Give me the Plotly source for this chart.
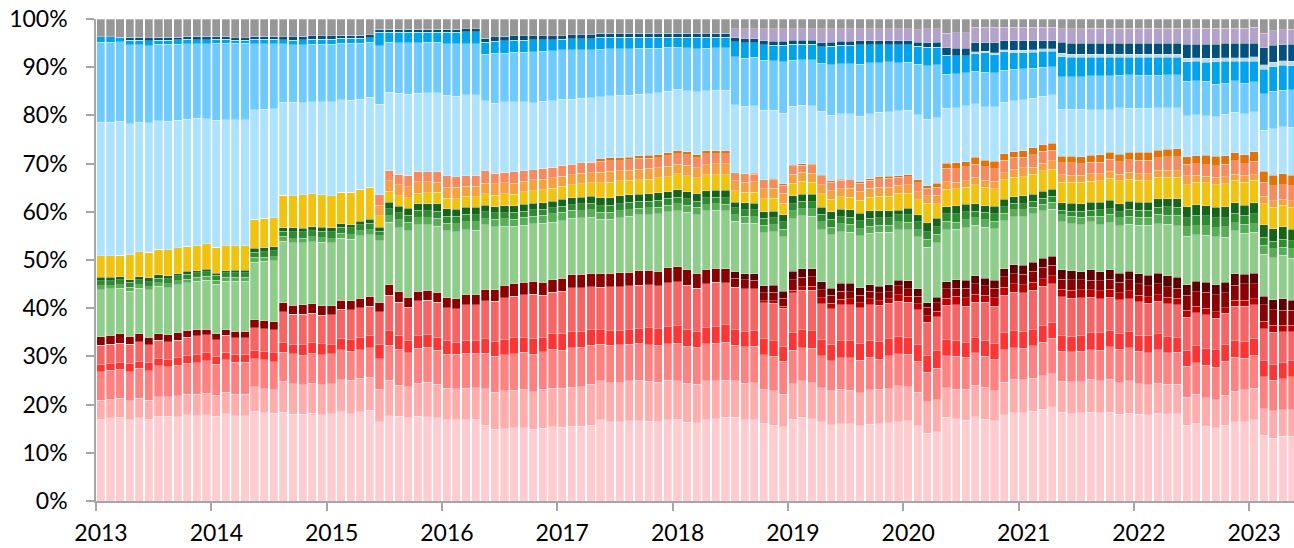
import plotly.graph_objects as go

# ---------------- categories ----------------
years = list(range(2013, 2024))
month_names = ["Jan", "Feb", "Mar", "Apr", "May", "Jun",
               "Jul", "Aug", "Sep", "Oct", "Nov", "Dec"]
n_months = 125  # Jan 2013 .. May 2023
months = [f"{m} {y}" for y in years for m in month_names][:n_months]
year_labels = [str(y) for y in years]

# ---------------- series values (% share, bottom -> top) ----------------
s01 = [16.9, 17.3, 17.3, 16.8, 17.3, 16.9, 17.6, 17.5, 17.5, 17.9, 17.7, 17.9,
       17.5, 18.1, 17.7, 17.7, 18.6, 18.3, 18.2, 18.4, 18.0, 17.9, 18.2, 17.9,
       18.1, 18.5, 18.1, 18.5, 18.8, 16.4, 17.7, 17.5, 17.2, 17.5, 17.5, 17.3,
       16.8, 16.8, 16.8, 16.9, 15.7, 14.8, 15.0, 15.2, 15.2, 14.8, 15.1, 15.4,
       15.3, 15.5, 15.5, 15.7, 16.9, 16.4, 16.4, 16.6, 16.6, 16.5, 16.4, 16.8,
       16.9, 16.3, 16.2, 16.8, 17.0, 17.3, 17.3, 16.9, 16.9, 16.1, 15.7, 15.4,
       16.9, 17.3, 17.0, 16.4, 15.8, 16.0, 16.0, 15.5, 15.9, 16.0, 16.2, 16.4,
       16.6, 15.5, 14.0, 14.3, 17.3, 17.0, 16.8, 17.5, 16.9, 16.6, 17.9, 18.3,
       18.3, 18.6, 19.0, 19.5, 18.4, 18.1, 18.3, 18.4, 18.3, 18.4, 17.9, 18.2,
       17.9, 17.9, 18.2, 18.1, 18.1, 15.7, 16.1, 15.5, 15.2, 15.7, 16.4, 16.4,
       16.8, 13.6, 13.0, 13.4, 13.4]
s02 = [4.0, 3.8, 4.0, 4.0, 4.0, 4.0, 4.0, 4.1, 4.3, 4.2, 4.4, 4.4,
       4.4, 4.4, 4.4, 4.4, 5.1, 5.0, 4.9, 6.4, 6.3, 6.1, 6.2, 6.2,
       6.3, 6.7, 6.9, 6.9, 6.8, 6.7, 7.3, 6.5, 6.5, 6.9, 7.1, 6.9,
       6.5, 6.5, 6.5, 6.5, 7.6, 7.6, 7.8, 7.8, 8.0, 7.8, 8.0, 8.0,
       8.0, 8.0, 8.2, 8.5, 8.1, 8.1, 8.1, 8.3, 8.4, 8.3, 8.2, 8.2,
       8.0, 8.1, 8.0, 8.1, 7.9, 7.7, 7.6, 7.6, 7.6, 7.1, 7.1, 6.7,
       7.4, 7.6, 7.5, 7.1, 7.1, 7.1, 6.9, 6.9, 7.1, 7.1, 7.0, 7.5,
       7.1, 6.9, 6.5, 6.7, 6.2, 6.2, 6.4, 6.5, 6.6, 6.2, 6.7, 6.9,
       6.8, 6.8, 6.9, 6.9, 6.4, 6.6, 6.4, 6.8, 6.6, 6.8, 6.6, 6.7,
       6.4, 6.2, 6.2, 6.1, 6.1, 5.8, 6.0, 5.9, 5.8, 6.2, 6.3, 6.7,
       6.5, 5.5, 5.7, 5.5, 5.5]
s03 = [5.9, 6.0, 6.0, 6.0, 6.2, 6.1, 6.4, 6.2, 6.4, 6.5, 6.5, 6.7,
       6.4, 6.7, 6.6, 6.6, 5.8, 6.0, 5.8, 6.0, 6.2, 6.2, 6.3, 6.2,
       6.2, 6.2, 6.0, 6.0, 6.2, 6.4, 7.2, 7.4, 7.0, 7.2, 7.3, 7.1,
       7.1, 7.1, 7.3, 7.2, 7.3, 7.5, 7.5, 7.6, 7.6, 7.8, 7.8, 8.1,
       7.9, 8.2, 8.2, 8.1, 7.5, 7.8, 7.8, 7.6, 7.7, 7.6, 7.6, 7.6,
       7.8, 7.6, 7.6, 7.6, 7.8, 7.9, 7.3, 7.5, 7.6, 7.1, 7.2, 6.8,
       6.9, 6.8, 7.1, 6.6, 6.2, 6.5, 6.7, 6.7, 6.7, 6.3, 6.9, 6.6,
       6.7, 6.4, 6.2, 6.5, 6.6, 6.8, 6.6, 6.7, 6.4, 6.5, 6.7, 6.6,
       6.5, 6.8, 6.9, 7.3, 6.2, 6.2, 6.4, 6.2, 6.4, 6.8, 6.9, 6.9,
       6.7, 6.6, 6.9, 6.6, 6.6, 6.4, 6.6, 6.7, 6.7, 7.1, 7.1, 6.5,
       6.8, 6.7, 6.4, 6.4, 6.8]
s04 = [1.5, 1.4, 1.4, 1.7, 1.5, 1.7, 1.6, 1.5, 1.6, 1.6, 1.7, 1.7,
       1.7, 1.6, 1.7, 1.7, 1.7, 1.8, 1.9, 2.1, 2.0, 2.1, 2.1, 2.3,
       1.9, 2.4, 2.4, 2.4, 2.4, 3.0, 3.1, 2.9, 2.6, 2.6, 2.7, 2.7,
       2.8, 2.5, 2.6, 2.6, 3.0, 3.1, 3.2, 3.3, 3.1, 3.3, 3.0, 3.3,
       3.5, 3.4, 3.3, 3.3, 3.1, 3.0, 3.0, 3.1, 3.0, 3.5, 3.5, 3.5,
       3.6, 3.6, 3.3, 3.3, 3.4, 3.6, 3.3, 3.3, 3.3, 3.3, 3.2, 3.0,
       3.7, 3.8, 3.7, 3.3, 3.4, 3.5, 3.5, 3.5, 3.5, 3.6, 3.5, 3.5,
       3.5, 3.5, 3.5, 3.6, 3.3, 3.3, 3.0, 3.2, 3.4, 3.3, 3.5, 3.5,
       3.5, 3.3, 3.6, 3.3, 3.3, 3.2, 3.3, 3.5, 3.6, 3.4, 3.3, 3.3,
       3.3, 3.5, 3.3, 3.3, 3.1, 3.3, 3.5, 3.5, 3.7, 3.5, 3.5, 3.5,
       3.6, 3.3, 3.2, 3.3, 3.3]
s05 = [4.0, 4.0, 4.0, 4.0, 4.0, 3.7, 3.7, 3.7, 3.6, 3.7, 3.9, 3.7,
       3.4, 3.5, 3.4, 3.4, 4.7, 4.6, 4.7, 6.3, 6.2, 6.3, 6.2, 5.9,
       6.2, 6.0, 6.2, 6.3, 6.2, 6.7, 7.3, 6.9, 6.8, 7.2, 7.0, 7.3,
       6.8, 6.9, 7.4, 7.4, 7.9, 8.2, 8.6, 8.7, 8.8, 9.1, 8.7, 8.5,
       8.7, 9.0, 9.0, 8.8, 8.7, 9.1, 9.0, 9.0, 9.0, 9.0, 8.9, 9.1,
       9.1, 9.1, 8.9, 9.1, 9.2, 8.7, 8.8, 8.8, 8.6, 7.5, 7.8, 8.0,
       8.2, 8.1, 8.3, 7.5, 7.3, 7.5, 7.5, 7.3, 7.4, 7.5, 7.3, 7.4,
       7.3, 7.2, 6.8, 7.0, 7.1, 7.4, 7.6, 7.3, 7.8, 7.7, 7.8, 8.0,
       8.0, 8.2, 8.0, 8.0, 8.0, 7.9, 7.8, 7.3, 7.1, 6.8, 6.9, 6.9,
       6.9, 6.7, 6.7, 6.8, 6.8, 6.9, 6.8, 6.9, 6.5, 6.4, 7.1, 7.3,
       6.9, 6.6, 6.7, 6.4, 6.0]
s06 = [0.0] * 60 + [
       0.0, 0.0, 0.0, 0.0, 0.0, 0.0, 0.0, 0.0, 0.0, 0.4, 0.5, 0.4,
       0.5, 0.7, 0.9, 1.2, 1.2, 1.1, 1.2, 1.1, 1.2, 1.0, 1.0, 1.4,
       1.2, 1.2, 1.4, 1.2, 1.5, 1.7, 1.8, 1.7, 1.5, 1.8, 1.7, 1.7,
       1.6, 1.6, 1.6, 1.6, 1.6, 1.6, 1.6, 1.6, 1.6, 1.7, 1.5, 1.6,
       1.4, 1.4, 1.4, 1.4, 1.3, 1.4, 1.4, 1.4, 1.4, 1.2, 1.2, 1.2,
       1.2, 1.6, 1.5, 1.4, 1.4]
s07 = [1.7, 1.9, 1.9, 1.6, 1.7, 1.5, 1.4, 1.4, 1.5, 1.5, 1.3, 1.2,
       1.2, 1.2, 1.3, 1.3, 1.7, 1.7, 1.7, 1.9, 1.9, 2.0, 1.9, 1.9,
       1.9, 1.9, 1.9, 1.9, 2.0, 2.0, 2.2, 2.1, 2.1, 2.0, 2.1, 2.1,
       2.1, 2.1, 2.1, 2.1, 2.4, 2.4, 2.6, 2.6, 2.6, 2.7, 2.6, 2.6,
       2.7, 2.7, 2.8, 2.7, 2.8, 2.8, 2.9, 2.8, 3.0, 3.0, 3.0, 3.1,
       3.2, 3.2, 3.1, 3.0, 2.9, 2.9, 1.8, 1.8, 1.8, 1.7, 1.8, 1.7,
       2.2, 2.0, 1.9, 1.7, 1.6, 1.7, 1.5, 1.5, 1.5, 1.6, 1.4, 1.8,
       1.6, 1.6, 1.7, 1.7, 1.9, 1.7, 1.9, 2.1, 1.9, 1.9, 2.1, 2.1,
       2.2, 2.3, 2.3, 2.2, 2.1, 2.2, 2.1, 2.0, 2.1, 2.1, 2.2, 2.3,
       2.3, 2.3, 2.2, 2.1, 2.1, 3.1, 3.0, 3.3, 3.5, 3.1, 3.1, 3.5,
       3.1, 3.4, 3.2, 3.1, 3.1]
s08 = [0.0] * 60 + [
       0.0, 0.0, 0.0, 0.0, 0.0, 0.0, 1.4, 1.3, 1.3, 1.4, 1.4, 1.4,
       1.7, 1.7, 1.7, 1.6, 1.5, 1.6, 1.7, 1.6, 1.4, 1.4, 1.5, 1.2,
       1.7, 1.5, 1.0, 1.2, 1.5, 1.8, 1.7, 1.7, 1.6, 1.7, 1.7, 1.9,
       1.9, 1.9, 1.9, 1.9, 1.9, 1.9, 1.7, 2.1, 1.9, 1.9, 1.8, 1.8,
       2.1, 2.1, 2.2, 2.3, 2.3, 2.2, 2.1, 2.1, 2.1, 2.1, 2.4, 1.9,
       2.2, 1.8, 2.1, 2.3, 2.1]
s09 = [9.8, 9.6, 9.4, 9.4, 9.4, 9.8, 9.8, 9.8, 10.0, 9.8, 10.0, 10.1,
       10.3, 10.0, 10.4, 10.4, 11.9, 12.3, 12.6, 12.7, 12.9, 12.8, 12.9, 13.2,
       13.0, 12.8, 12.7, 13.0, 12.8, 12.7, 12.9, 13.3, 13.8, 13.7, 13.6, 13.7,
       13.9, 13.9, 13.4, 13.4, 13.4, 13.0, 12.2, 11.9, 11.9, 11.8, 12.3, 11.9,
       11.9, 11.7, 11.7, 11.8, 11.4, 11.2, 11.4, 11.6, 11.6, 11.5, 11.9, 11.6,
       11.6, 11.9, 12.2, 12.1, 12.0, 12.0, 10.4, 10.5, 10.5, 11.0, 11.1, 11.3,
       10.9, 11.0, 10.9, 10.8, 11.1, 10.7, 10.6, 10.7, 10.6, 11.1, 10.8, 10.4,
       10.5, 10.7, 11.4, 11.3, 10.8, 10.4, 10.9, 10.5, 10.5, 10.7, 9.9, 9.9,
       10.0, 10.0, 9.8, 9.7, 10.0, 9.7, 9.7, 10.0, 9.7, 9.8, 9.8, 9.7,
       10.0, 10.4, 10.3, 10.7, 10.7, 10.1, 9.7, 9.7, 9.9, 9.4, 8.9, 8.5,
       8.5, 8.7, 8.7, 9.0, 8.7]
s10 = [0.8, 0.7, 0.8, 0.8, 0.8, 0.7, 0.7, 0.8, 0.8, 0.8, 0.8, 0.8,
       0.8, 0.8, 0.8, 0.8, 1.0, 0.9, 0.9, 1.0, 0.9, 1.0, 1.0, 0.9,
       0.9, 1.0, 1.0, 1.0, 1.0, 1.0, 1.4, 1.6, 1.7, 1.5, 1.5, 1.6,
       1.5, 1.7, 1.7, 1.7, 1.2, 1.6, 1.5, 1.5, 1.6, 1.6, 1.6, 1.7,
       1.7, 1.6, 1.5, 1.5, 1.4, 1.4, 1.4, 1.4, 1.4, 1.4, 1.3, 1.4,
       1.4, 1.4, 1.5, 1.3, 1.3, 1.3, 1.4, 1.4, 1.4, 1.6, 1.5, 1.6,
       1.6, 1.5, 1.5, 1.7, 1.5, 1.6, 1.6, 1.5, 1.5, 1.5, 1.5, 1.7,
       1.6, 1.5, 1.7, 1.7, 1.7, 1.5, 1.6, 1.5, 1.6, 1.5, 1.6, 1.5,
       1.4, 1.4, 1.4, 1.5, 1.4, 1.6, 1.6, 1.1, 1.8, 1.7, 1.7, 1.7,
       1.7, 1.7, 1.9, 1.9, 2.1, 1.9, 1.9, 1.9, 1.9, 2.1, 1.7, 1.9,
       1.7, 1.9, 1.9, 1.7, 1.9]
s11 = [1.0, 1.0, 1.0, 1.0, 1.0, 1.0, 1.0, 1.0, 1.0, 1.0, 1.0, 1.0,
       1.0, 1.0, 1.0, 1.0, 1.1, 1.1, 1.2, 1.1, 1.4, 1.3, 1.3, 1.4,
       1.4, 1.3, 1.4, 1.3, 1.4, 1.0, 1.4, 1.5, 1.5, 1.5, 1.4, 1.5,
       1.5, 1.5, 1.5, 1.5, 1.5, 1.3, 1.3, 1.4, 1.3, 1.3, 1.2, 1.3,
       1.3, 1.2, 1.4, 1.4, 1.4, 1.5, 1.5, 1.5, 1.4, 1.4, 1.5, 1.4,
       1.4, 1.4, 1.3, 1.4, 1.4, 1.4, 1.4, 1.4, 1.4, 1.4, 1.4, 1.5,
       1.5, 1.5, 1.5, 1.5, 1.7, 1.5, 1.5, 1.6, 1.6, 1.5, 1.5, 1.4,
       1.5, 1.6, 1.6, 1.6, 1.6, 1.7, 1.7, 1.4, 1.5, 1.6, 1.3, 1.3,
       1.3, 1.2, 1.2, 1.2, 1.0, 1.0, 1.2, 1.3, 1.3, 1.2, 1.2, 1.4,
       1.4, 1.4, 1.5, 1.7, 1.7, 1.9, 2.1, 2.1, 2.1, 1.9, 1.9, 1.9,
       2.1, 1.6, 1.5, 1.6, 1.7]
s12 = [0.8, 0.7, 0.6, 0.6, 0.6, 0.8, 0.7, 0.6, 0.5, 0.6, 0.4, 0.5,
       0.5, 0.4, 0.5, 0.5, 0.8, 0.8, 0.8, 0.7, 0.8, 0.7, 0.8, 0.8,
       0.8, 0.7, 0.7, 0.7, 0.8, 0.8, 1.4, 1.3, 1.4, 1.4, 1.5, 1.5,
       1.5, 1.5, 1.5, 1.5, 1.3, 1.2, 1.4, 1.4, 1.4, 1.4, 1.4, 1.3,
       1.4, 1.4, 1.4, 1.4, 1.6, 1.6, 1.6, 1.6, 1.5, 1.5, 1.5, 1.4,
       1.5, 1.4, 1.5, 1.5, 1.4, 1.5, 1.2, 1.4, 1.4, 1.4, 1.4, 1.5,
       1.6, 1.5, 1.5, 1.5, 1.5, 1.5, 1.5, 1.6, 1.6, 1.5, 1.5, 1.0,
       1.4, 1.5, 1.8, 1.7, 1.4, 1.7, 1.6, 1.5, 1.4, 1.5, 1.6, 1.4,
       1.6, 1.5, 1.5, 1.5, 1.5, 1.6, 1.6, 1.6, 1.6, 1.7, 1.7, 1.7,
       1.7, 1.7, 1.7, 1.7, 1.7, 2.3, 2.2, 2.1, 2.1, 2.3, 2.2, 2.1,
       2.3, 2.6, 2.6, 2.6, 2.4]
s13 = [4.4, 4.5, 4.5, 5.1, 5.2, 5.3, 5.3, 5.4, 5.3, 5.2, 5.2, 5.3,
       5.3, 5.2, 5.1, 5.1, 6.0, 6.2, 6.1, 6.7, 6.7, 6.9, 6.8, 6.7,
       6.7, 6.6, 6.7, 6.6, 6.6, 2.4, 2.2, 2.2, 2.2, 2.2, 2.3, 2.4,
       2.2, 2.1, 2.2, 2.2, 2.4, 2.4, 2.5, 2.4, 2.6, 2.6, 2.7, 2.7,
       2.7, 2.7, 2.8, 2.8, 3.1, 3.2, 3.1, 3.0, 3.0, 3.1, 3.1, 3.1,
       3.3, 3.3, 3.3, 3.3, 3.3, 3.3, 2.3, 2.2, 2.3, 2.6, 2.6, 2.4,
       2.6, 2.6, 2.5, 2.8, 2.6, 2.6, 2.6, 2.6, 2.8, 3.0, 3.0, 3.5,
       3.1, 3.1, 4.0, 3.0, 3.6, 3.5, 3.5, 3.9, 3.8, 3.7, 4.0, 4.0,
       4.0, 4.1, 4.2, 4.1, 4.3, 4.4, 4.4, 4.4, 4.4, 4.6, 4.7, 4.6,
       4.5, 4.4, 4.5, 4.5, 4.5, 4.5, 4.7, 4.7, 4.7, 4.8, 4.7, 4.7,
       4.6, 4.4, 4.5, 4.5, 4.5]
s14 = [0.0] * 24 + [
       0.0, 0.0, 0.0, 0.0, 0.0, 2.1, 2.2, 2.3, 2.3, 2.3, 2.2, 2.1,
       2.3, 2.4, 2.1, 2.2, 2.2, 2.4, 2.3, 2.3, 2.2, 2.2, 2.2, 2.2,
       2.1, 2.1, 2.1, 2.1, 2.2, 2.2, 2.1, 2.1, 2.2, 2.2, 2.1, 2.2,
       2.0, 2.2, 2.1, 2.1, 2.2, 2.2, 2.1, 2.1, 2.1, 2.1, 2.1, 2.0,
       1.9, 1.9, 1.9, 1.8, 1.8, 1.7, 1.9, 1.9, 1.8, 1.9, 1.9, 1.6,
       1.7, 1.6, 1.6, 1.8, 1.6, 1.4, 1.3, 1.6, 1.4, 1.5, 1.5, 1.7,
       1.8, 1.5, 1.6, 1.7, 1.5, 1.5, 1.5, 1.5, 1.5, 1.4, 1.4, 1.4,
       1.4, 1.5, 1.4, 1.4, 1.4, 1.9, 1.4, 1.4, 1.6, 1.4, 1.2, 1.5,
       1.2, 1.5, 1.4, 1.2, 1.4]
s15 = [0.0] * 24 + [
       0.0, 0.0, 0.0, 0.0, 0.0, 2.2, 2.2, 2.2, 2.3, 2.2, 2.1, 2.2,
       2.3, 2.2, 2.2, 2.2, 2.5, 2.2, 2.2, 2.3, 2.2, 2.1, 2.2, 2.2,
       2.2, 2.2, 2.2, 2.2, 2.3, 2.2, 2.1, 2.1, 2.2, 2.1, 2.1, 2.2,
       2.2, 2.2, 2.1, 2.2, 2.1, 2.1, 1.5, 1.6, 1.6, 1.7, 1.6, 1.7,
       1.5, 1.5, 1.5, 1.7, 1.8, 1.7, 1.7, 1.7, 1.7, 1.7, 1.8, 1.7,
       1.7, 1.9, 1.6, 1.7, 2.8, 2.8, 2.9, 2.7, 2.8, 2.6, 2.6, 2.4,
       2.2, 2.6, 2.4, 2.2, 2.5, 2.5, 2.4, 2.4, 2.4, 2.5, 2.6, 2.6,
       2.8, 2.8, 2.6, 2.8, 2.8, 2.4, 2.4, 2.4, 2.4, 2.6, 2.8, 2.4,
       2.8, 2.9, 3.1, 3.0, 3.1]
s16 = [0.0] * 48 + [
       0.0, 0.0, 0.0, 0.0, 0.5, 0.6, 0.6, 0.5, 0.6, 0.6, 0.6, 0.6,
       0.6, 0.6, 0.6, 0.6, 0.6, 0.6, 0.2, 0.2, 0.2, 0.2, 0.3, 0.3,
       0.3, 0.3, 0.3, 0.3, 0.3, 0.3, 0.2, 0.3, 0.3, 0.4, 0.4, 0.3,
       0.4, 0.6, 0.5, 0.8, 1.0, 1.2, 1.1, 1.4, 1.4, 1.5, 1.3, 1.2,
       1.3, 1.4, 1.4, 1.5, 1.4, 1.4, 1.4, 1.5, 1.5, 1.5, 1.5, 1.6,
       1.6, 1.6, 1.6, 1.6, 1.7, 1.6, 1.7, 1.9, 1.9, 1.8, 1.7, 1.8,
       1.9, 2.3, 2.2, 2.3, 2.2]
s17 = [27.7, 27.7, 27.7, 27.2, 26.9, 26.8, 26.6, 26.6, 26.5, 26.3, 26.3, 25.8,
       26.3, 26.0, 26.0, 26.0, 22.7, 22.6, 22.6, 19.3, 19.3, 19.1, 19.1, 19.3,
       19.5, 19.1, 19.1, 18.7, 18.7, 18.8, 16.1, 16.7, 16.8, 16.1, 16.4, 16.4,
       16.7, 16.7, 16.7, 16.7, 14.6, 14.4, 14.6, 14.6, 14.3, 13.9, 13.9, 13.8,
       13.7, 13.4, 13.4, 13.4, 12.9, 12.9, 12.9, 12.9, 12.7, 12.8, 12.8, 12.7,
       12.7, 12.6, 13.0, 12.5, 12.5, 12.5, 14.0, 14.0, 14.0, 14.4, 14.3, 14.6,
       12.3, 12.1, 12.1, 13.3, 13.6, 13.5, 13.5, 13.5, 13.4, 13.4, 13.4, 13.5,
       13.4, 13.4, 13.7, 13.6, 11.4, 11.4, 11.6, 11.1, 11.1, 11.3, 10.7, 10.6,
       10.6, 10.3, 10.0, 10.0, 9.7, 9.7, 9.9, 9.4, 9.4, 8.8, 9.6, 9.1,
       9.1, 9.1, 8.7, 8.6, 8.5, 8.5, 8.5, 8.2, 8.2, 8.6, 8.4, 8.5,
       8.3, 8.5, 9.6, 9.7, 9.9]
s18 = [16.6, 16.6, 16.5, 16.4, 16.1, 16.0, 15.9, 16.0, 15.8, 15.7, 15.5, 15.6,
       16.0, 15.9, 15.9, 15.9, 13.7, 13.6, 13.5, 12.1, 12.0, 12.0, 12.0, 11.9,
       12.0, 11.8, 11.8, 11.6, 11.4, 12.1, 10.4, 10.5, 10.7, 10.5, 10.5, 10.5,
       10.7, 10.9, 10.6, 10.6, 9.6, 10.3, 10.0, 10.3, 10.2, 10.5, 10.3, 10.3,
       10.2, 10.2, 10.0, 9.9, 9.8, 9.7, 9.6, 9.6, 9.5, 9.4, 9.2, 9.1,
       8.7, 8.9, 8.9, 8.8, 8.8, 8.8, 10.0, 10.0, 10.1, 10.3, 10.2, 10.6,
       9.5, 9.4, 9.6, 9.9, 10.4, 10.3, 10.3, 10.8, 10.6, 10.2, 10.3, 9.9,
       9.9, 10.5, 11.1, 10.9, 7.1, 7.1, 6.9, 6.8, 7.1, 7.1, 6.6, 6.5,
       6.4, 6.2, 6.0, 5.8, 6.7, 6.7, 6.7, 7.0, 7.0, 7.0, 6.8, 6.9,
       6.9, 6.9, 6.8, 6.8, 6.8, 7.1, 7.0, 7.1, 6.8, 6.4, 6.5, 6.4,
       6.2, 7.6, 7.8, 7.6, 7.8]
s19 = [1.1, 1.1, 0.8, 0.9, 0.9, 1.0, 0.8, 0.8, 0.9, 0.9, 0.8, 0.8,
       0.8, 0.8, 0.6, 0.6, 0.9, 0.9, 0.9, 0.8, 0.9, 1.0, 1.0, 1.0,
       1.0, 1.0, 1.0, 1.0, 0.9, 2.8, 2.1, 2.2, 2.2, 2.2, 2.1, 2.1,
       2.4, 2.4, 2.5, 2.5, 2.5, 2.5, 2.6, 2.5, 2.5, 2.5, 2.4, 2.3,
       2.2, 2.3, 2.3, 2.3, 2.5, 2.4, 2.4, 2.4, 2.3, 2.3, 2.3, 2.1,
       2.1, 2.2, 2.4, 2.2, 2.2, 2.2, 3.1, 3.2, 3.0, 3.3, 3.3, 3.5,
       3.3, 3.2, 3.2, 3.5, 3.9, 3.9, 3.9, 4.0, 3.7, 3.8, 3.6, 3.8,
       3.7, 3.7, 3.8, 3.7, 3.9, 3.7, 3.5, 3.6, 4.0, 3.7, 3.8, 3.4,
       3.3, 3.3, 3.3, 3.2, 4.2, 4.1, 4.1, 3.9, 3.9, 3.9, 3.7, 3.7,
       3.7, 3.7, 3.7, 3.7, 3.7, 4.0, 4.0, 4.0, 4.6, 4.5, 4.0, 4.5,
       4.3, 5.1, 5.1, 5.1, 4.9]
s20 = [0.0] * 84 + [
       0.0, 0.0, 0.0, 0.0, 0.0, 0.0, 0.0, 0.4, 0.3, 0.4, 0.4, 0.5,
       0.5, 0.5, 0.5, 0.5, 0.7, 0.6, 0.6, 0.6, 0.6, 0.6, 0.6, 0.6,
       0.6, 0.6, 0.6, 0.6, 0.6, 0.8, 0.8, 0.8, 0.8, 0.8, 0.8, 0.8,
       0.9, 0.9, 0.9, 1.0, 1.0]
s21 = [0.0, 0.0, 0.1, 0.6, 0.6, 0.6, 0.6, 0.6, 0.5, 0.6, 0.7, 0.7,
       0.6, 0.6, 0.5, 0.5, 0.6, 0.6, 0.6, 0.6, 0.7, 0.7, 0.7, 0.7,
       0.7, 0.6, 0.6, 0.6, 0.6, 0.6, 0.6, 0.6, 0.6, 0.6, 0.6, 0.6,
       0.6, 0.6, 0.6, 0.6, 0.8, 0.9, 0.9, 0.9, 0.9, 0.8, 0.8, 0.8,
       0.7, 0.8, 0.8, 0.8, 0.8, 0.8, 0.8, 0.8, 0.8, 0.8, 0.8, 0.8,
       0.8, 0.8, 0.8, 0.8, 0.8, 0.8, 0.8, 0.8, 0.8, 0.8, 0.8, 0.8,
       0.8, 0.8, 0.8, 0.8, 0.8, 0.8, 0.8, 0.8, 0.8, 0.8, 0.8, 0.8,
       0.8, 0.8, 1.0, 1.0, 1.5, 1.5, 1.5, 1.9, 1.8, 2.1, 1.9, 2.0,
       2.0, 1.9, 1.7, 1.7, 2.3, 2.3, 2.3, 2.3, 2.3, 2.3, 2.3, 2.3,
       2.3, 2.3, 2.3, 2.3, 2.3, 2.9, 2.8, 2.9, 2.9, 3.0, 3.0, 3.0,
       2.8, 3.5, 3.6, 3.3, 3.5]
s22 = [0.0] * 60 + [
       0.0, 0.0, 0.0, 0.0, 0.0, 0.0, 1.9, 2.1, 2.1, 2.5, 2.6, 2.6,
       2.4, 2.4, 2.4, 2.9, 2.8, 2.6, 2.6, 2.5, 2.5, 2.5, 2.5, 2.5,
       2.5, 2.6, 2.9, 2.8, 3.1, 3.3, 3.3, 3.2, 3.2, 3.2, 2.8, 2.8,
       2.8, 2.8, 2.8, 2.8, 2.8, 3.0, 3.0, 3.1, 3.1, 3.1, 3.1, 3.1,
       3.1, 3.1, 3.1, 3.1, 3.1, 3.3, 3.3, 3.3, 3.3, 3.1, 3.1, 3.1,
       3.3, 3.0, 3.0, 3.1, 3.1]
s23 = [3.7, 3.7, 3.8, 3.8, 3.8, 3.9, 3.8, 3.8, 3.8, 3.6, 3.6, 3.6,
       3.6, 3.6, 3.9, 3.9, 3.6, 3.6, 3.6, 3.7, 3.7, 3.6, 3.5, 3.5,
       3.5, 3.4, 3.4, 3.4, 3.3, 2.1, 2.1, 2.1, 2.1, 2.1, 2.1, 2.1,
       2.1, 2.1, 2.0, 2.0, 4.0, 3.7, 3.6, 3.5, 3.5, 3.5, 3.5, 3.5,
       3.5, 3.3, 3.3, 3.3, 3.0, 3.0, 3.0, 3.0, 3.0, 3.0, 3.0, 3.0,
       3.0, 3.0, 3.0, 3.0, 3.0, 3.0, 2.0, 2.0, 2.0, 2.0, 2.0, 2.0,
       2.0, 2.0, 2.0, 2.0, 2.0, 2.0, 2.0, 2.0, 2.0, 2.0, 2.0, 2.0,
       2.0, 2.2, 2.0, 2.0, 2.9, 2.8, 2.8, 1.7, 1.7, 1.7, 1.7, 1.7,
       1.7, 1.7, 1.7, 1.7, 2.0, 2.0, 2.0, 1.9, 1.9, 1.9, 1.9, 1.9,
       1.9, 1.9, 1.9, 1.9, 1.9, 1.9, 1.9, 1.9, 1.9, 1.9, 1.9, 1.9,
       1.7, 3.0, 2.4, 2.2, 2.1]

series = [s01, s02, s03, s04, s05, s06, s07, s08, s09, s10, s11, s12,
          s13, s14, s15, s16, s17, s18, s19, s20, s21, s22, s23]
colors = ["#FFCDD0", "#FFADAD", "#FF8282", "#FF3535", "#F56565", "#C00000",
          "#8B0000", "#5E0000", "#8FCE8A", "#58AD57", "#2E8B2F", "#166418",
          "#F0C30F", "#F5A041", "#F78B60", "#E4720A", "#ADE3FE", "#6ECBFF",
          "#00A3EE", "#BBD8E3", "#02507B", "#B3A2CA", "#979797"]

bad = [(i + 1, len(s)) for i, s in enumerate(series) if len(s) != n_months]
if bad:
    raise ValueError(f"length mismatch: {bad}")

x_pos = list(range(n_months))

fig = go.Figure()
for k, (vals, col) in enumerate(zip(series, colors)):
    fig.add_trace(go.Bar(
        x=x_pos, y=vals, name=f"Series {k + 1}",
        customdata=months,
        hovertemplate="%{customdata}: %{y:.1f}%<extra></extra>",
        marker=dict(color=col, line=dict(color="rgba(255,255,255,0.55)", width=0.5)),
    ))

axis_col = "#A6A6A6"
font_family = "Lato, 'Open Sans', sans-serif"
fig.update_layout(
    width=1294, height=548,
    margin=dict(l=96, r=0, t=19, b=46.5, pad=0),
    barmode="stack", barnorm="percent", bargap=0.15,
    plot_bgcolor="white", paper_bgcolor="white",
    showlegend=False,
    font=dict(family=font_family, size=23, color="#000000"),
    xaxis=dict(
        range=[-0.5, 124.16], tickmode="array",
        tickvals=[12 * k - 0.5 for k in range(len(years))],
        ticktext=year_labels, ticklabelshift=5, ticklabelstandoff=3,
        ticklabeloverflow="allow",
        ticks="outside", ticklen=8, tickwidth=1.5, tickcolor=axis_col,
        showline=True, linecolor=axis_col, linewidth=1.5,
        showgrid=False, zeroline=False, automargin=False,
        tickfont=dict(family=font_family, size=23, color="#000000"),
    ),
    yaxis=dict(
        range=[0, 100], tickmode="array",
        tickvals=list(range(0, 101, 10)),
        ticktext=[f"{v}%" for v in range(0, 101, 10)],
        ticks="outside", ticklen=8, tickwidth=1.5, tickcolor=axis_col,
        ticklabelstandoff=14, ticklabeloverflow="allow", automargin=False,
        showline=True, linecolor=axis_col, linewidth=1.5,
        showgrid=False, zeroline=False,
        tickfont=dict(family=font_family, size=23, color="#000000"),
    ),
)

# remove the browser's default 8px page margin so the figure fills the window
fig.write_html("out.html", config={"displayModeBar": False},
               post_script="document.body.style.margin = '0px';")
